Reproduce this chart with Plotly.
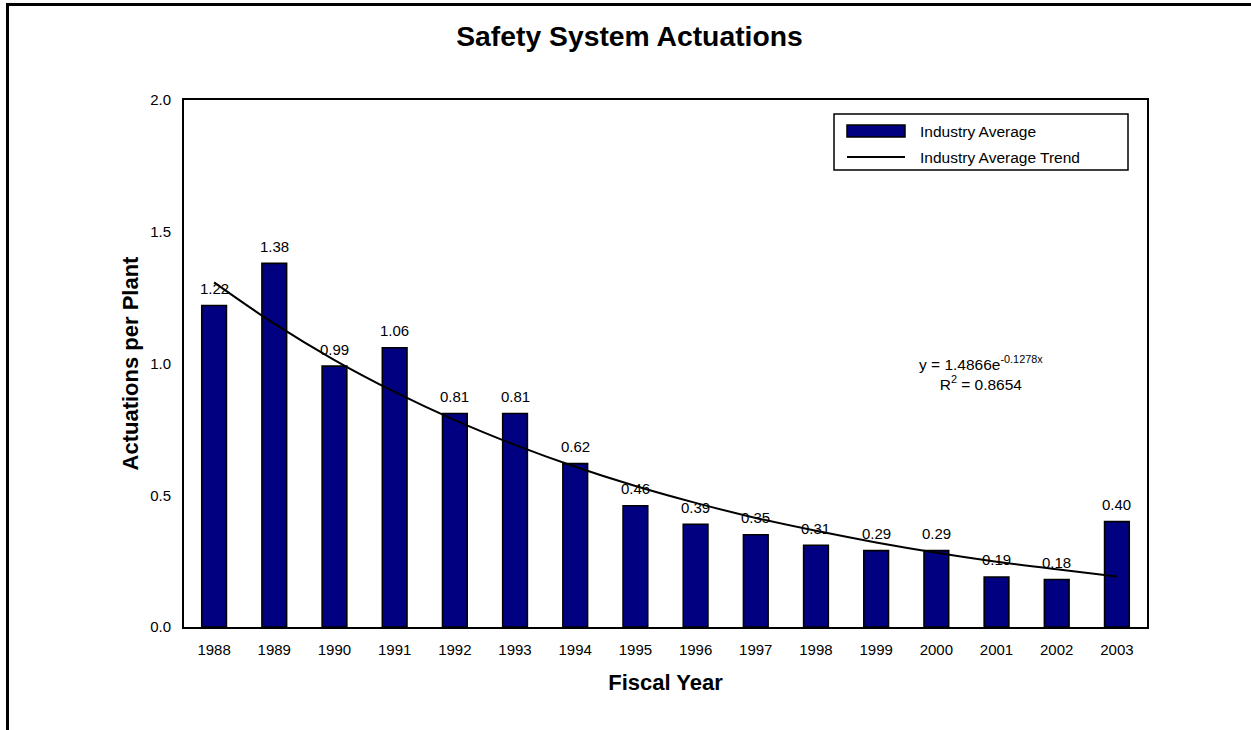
import plotly.graph_objects as go

# ---- data ----
years = ["1988", "1989", "1990", "1991", "1992", "1993", "1994", "1995",
         "1996", "1997", "1998", "1999", "2000", "2001", "2002", "2003"]
industry_average = [1.22, 1.38, 0.99, 1.06, 0.81, 0.81, 0.62, 0.46,
                    0.39, 0.35, 0.31, 0.29, 0.29, 0.19, 0.18, 0.40]
# trend values (y = 1.4866e^-0.1278x)
industry_trend = [1.308, 1.151, 1.013, 0.892, 0.785, 0.691, 0.608, 0.535,
                  0.471, 0.414, 0.365, 0.321, 0.282, 0.248, 0.219, 0.192]
y_ticks = [0.0, 0.5, 1.0, 1.5, 2.0]
title_text = "Safety System Actuations"
x_title = "Fiscal Year"
y_title = "Actuations per Plant"
legend_names = ["Industry Average", "Industry Average Trend"]
equation_text = "y = 1.4866e<sup>-0.1278x</sup><br>R<sup>2</sup> = 0.8654"

FONT = "Arial, 'Liberation Sans', sans-serif"
NAVY = "#000080"

W, H = 1251, 730
L, R, T, B = 184, 104, 100, 103
PW, PH = W - L - R, H - T - B


def px(xp):
    return (xp - L) / PW


def py(yp):
    return (H - B - yp) / PH


fig = go.Figure()
fig.add_trace(go.Bar(
    x=years, y=industry_average, name=legend_names[0],
    marker=dict(color=NAVY, line=dict(color="black", width=1.6)),
    width=0.41,
    showlegend=False,
))
fig.add_trace(go.Scatter(
    x=years, y=industry_trend, name=legend_names[1], mode="lines",
    line=dict(color="black", width=2, shape="spline"),
    showlegend=False,
))

shapes = [
    # outer frame (top and left)
    dict(type="line", xref="paper", yref="paper", x0=px(6), x1=px(1260),
         y0=py(4.5), y1=py(4.5), line=dict(color="black", width=3)),
    dict(type="line", xref="paper", yref="paper", x0=px(7.5), x1=px(7.5),
         y0=py(3), y1=py(760), line=dict(color="black", width=3)),
    # legend box
    dict(type="rect", xref="paper", yref="paper", x0=px(834), x1=px(1128),
         y0=py(114), y1=py(170), line=dict(color="black", width=1.5),
         fillcolor="white"),
    dict(type="rect", xref="paper", yref="paper", x0=px(847), x1=px(905),
         y0=py(125), y1=py(137), line=dict(color="black", width=1.5),
         fillcolor=NAVY),
    dict(type="line", xref="paper", yref="paper", x0=px(847), x1=px(905),
         y0=py(157), y1=py(157), line=dict(color="black", width=2)),
]

annotations = [
    dict(xref="paper", yref="paper", x=px(918), y=py(131), text=legend_names[0],
         showarrow=False, xanchor="left", yanchor="middle",
         font=dict(family=FONT, size=15.5, color="black")),
    dict(xref="paper", yref="paper", x=px(918), y=py(157), text=legend_names[1],
         showarrow=False, xanchor="left", yanchor="middle",
         font=dict(family=FONT, size=15.5, color="black")),
    dict(xref="paper", yref="paper", x=px(981), y=py(373), text=equation_text,
         showarrow=False, xanchor="center", yanchor="middle", align="center",
         font=dict(family=FONT, size=15.5, color="black")),
]
# value labels above the bars (x given as category index)
for i, v in enumerate(industry_average):
    annotations.append(dict(
        x=i, y=v, xref="x", yref="y", text=f"{v:.2f}", showarrow=False,
        xanchor="center", yanchor="middle", yshift=17,
        font=dict(family=FONT, size=15, color="black")))

fig.update_layout(
    width=W, height=H,
    margin=dict(l=L, r=R, t=T, b=B, autoexpand=False),
    paper_bgcolor="white", plot_bgcolor="white",
    font=dict(family=FONT, size=15, color="black"),
    title=dict(text="<b>" + title_text + "</b>", x=629.5 / W, xanchor="center",
               y=1 - 36 / H, yanchor="middle", yref="container",
               font=dict(family=FONT, size=28.3, color="black")),
    showlegend=False,
    shapes=shapes,
    annotations=annotations,
    bargap=0.59,
)
fig.update_xaxes(
    type="category", categoryorder="array", categoryarray=years,
    range=[-0.5, len(years) - 0.5],
    showline=True, mirror=True, linecolor="black", linewidth=2,
    showgrid=False, ticks="outside", ticklen=8, tickcolor="rgba(0,0,0,0)",
    tickfont=dict(family=FONT, size=15, color="black"),
    title=dict(text="<b>" + x_title + "</b>", standoff=18,
               font=dict(family=FONT, size=22, color="black")),
)
fig.update_yaxes(
    range=[0, 2], tickvals=y_ticks, tickformat=".1f",
    showline=True, mirror=True, linecolor="black", linewidth=2,
    showgrid=False, zeroline=False, ticks="outside", ticklen=8,
    tickcolor="rgba(0,0,0,0)",
    tickfont=dict(family=FONT, size=15, color="black"),
    title=dict(text="<b>" + y_title + "</b>", standoff=5,
               font=dict(family=FONT, size=22, color="black")),
)

fig.write_html("out.html", config={"displayModeBar": False},
               post_script="document.body.style.margin='0';")
